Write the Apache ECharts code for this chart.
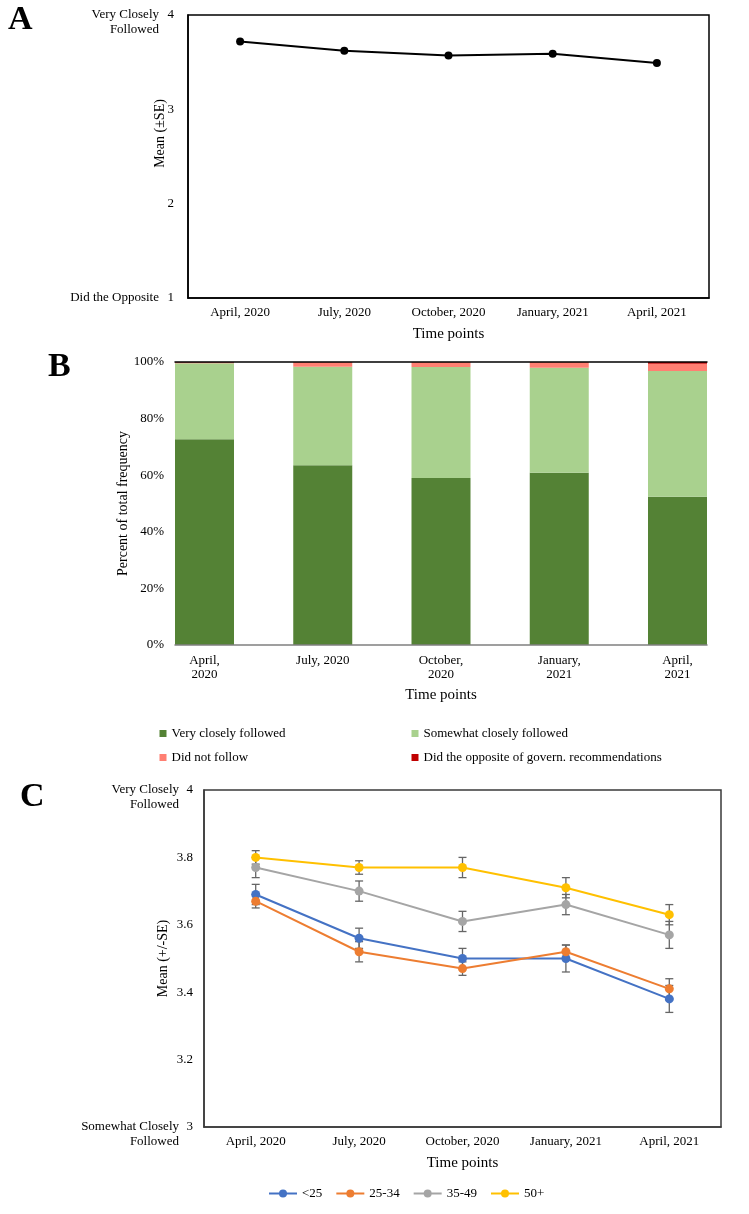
<!DOCTYPE html>
<html>
<head>
<meta charset="utf-8">
<script src="https://cdn.jsdelivr.net/npm/echarts@6/dist/echarts.min.js"></script>
<style>
html,body{margin:0;padding:0;background:#fff;}
#main{width:749px;height:1214px;}
</style>
</head>
<body>
<div id="main"></div>
<script>
// ---------- data ----------
const categories = ['April, 2020', 'July, 2020', 'October, 2020', 'January, 2021', 'April, 2021'];
const tickLabelsB = ['April,\n2020', 'July, 2020', 'October,\n2020', 'January,\n2021', 'April,\n2021'];

// Panel A: overall mean
const meanOverall = [3.72, 3.62, 3.57, 3.59, 3.49];
const yTickTextA = { 4: 'Very Closely\nFollowed', 1: 'Did the Opposite' };

// Panel B: percent of total frequency
const veryClosely = [72.7, 63.5, 59.0, 60.9, 52.4];
const somewhatClosely = [26.9, 34.8, 39.2, 37.1, 44.4];
const didNotFollow = [0.2, 1.6, 1.7, 1.9, 2.6];
const didOpposite = [0.2, 0.1, 0.1, 0.1, 0.6];
const seriesNamesB = ['Very closely followed', 'Somewhat closely followed', 'Did not follow', 'Did the opposite of govern. recommendations'];

// Panel C: by age group (mean and SE)
const groupNames = ['<25', '25-34', '35-49', '50+'];
const meanLt25 = [3.69, 3.56, 3.50, 3.50, 3.38];
const seLt25 = [0.03, 0.03, 0.03, 0.04, 0.04];
const mean25_34 = [3.67, 3.52, 3.47, 3.52, 3.41];
const se25_34 = [0.02, 0.03, 0.02, 0.02, 0.03];
const mean35_49 = [3.77, 3.70, 3.61, 3.66, 3.57];
const se35_49 = [0.03, 0.03, 0.03, 0.03, 0.04];
const mean50p = [3.80, 3.77, 3.77, 3.71, 3.63];
const se50p = [0.02, 0.02, 0.03, 0.03, 0.03];
const yTickTextC = { 4: 'Very Closely\nFollowed', 3: 'Somewhat Closely\nFollowed' };

// ---------- styling ----------
const FONT = "'Liberation Serif','Times New Roman',serif";
const colorsB = ['#548235', '#a9d18e', '#ff7f72', '#c00000'];
const colorsC = ['#4472c4', '#ed7d31', '#a5a5a5', '#ffc000'];

function makeRich(nWidth) {
  return {
    t: { fontSize: 13, lineHeight: 15, fontFamily: FONT, color: '#000' },
    n: { fontSize: 13, lineHeight: 15, width: nWidth, align: 'right', fontFamily: FONT, color: '#000' },
    g: { fontSize: 13, lineHeight: 15, width: nWidth },
    b: { fontSize: 13, lineHeight: 15 }
  };
}
function labelFormatter(map, decimals) {
  return function (v) {
    const key = Math.round(v * 1000) / 1000;
    const txt = map[key];
    if (!txt) return decimals ? v.toFixed(decimals) : String(Math.round(v));
    const num = String(Math.round(v));
    const lines = txt.split('\n');
    if (lines.length === 1) return '{t|' + lines[0] + '}{n|' + num + '}';
    return '{b| }\n{t|' + lines[0] + '}{n|' + num + '}\n{t|' + lines[1] + '}{g| }';
  };
}

const nameStyle = { fontSize: 14, color: '#000', fontFamily: FONT };
const tickStyle = { fontSize: 13, color: '#000', fontFamily: FONT };

function errorBarSeries(means, ses, idx) {
  return {
    type: 'custom',
    name: 'err' + idx,
    xAxisIndex: 4,
    yAxisIndex: 3,
    z: 1,
    silent: true,
    data: means.map((m, i) => [i, m - ses[i], m + ses[i]]),
    encode: { x: 0, y: [1, 2] },
    renderItem: function (params, api) {
      const x = api.value(0);
      const lo = api.coord([x, api.value(1)]);
      const hi = api.coord([x, api.value(2)]);
      const w = 4;
      const st = { stroke: '#666', lineWidth: 1.3 };
      return {
        type: 'group',
        children: [
          { type: 'line', shape: { x1: lo[0], y1: lo[1], x2: hi[0], y2: hi[1] }, style: st },
          { type: 'line', shape: { x1: lo[0] - w, y1: lo[1], x2: lo[0] + w, y2: lo[1] }, style: st },
          { type: 'line', shape: { x1: hi[0] - w, y1: hi[1], x2: hi[0] + w, y2: hi[1] }, style: st }
        ]
      };
    }
  };
}

const chart = echarts.init(document.getElementById('main'), null, { renderer: 'canvas' });

const groupMeans = [meanLt25, mean25_34, mean35_49, mean50p];
const groupSEs = [seLt25, se25_34, se35_49, se50p];

const option = {
  animation: false,
  backgroundColor: '#fff',
  textStyle: { fontFamily: FONT, color: '#000' },
  title: [
    { text: 'A', left: 8, top: 3, padding: 0, textStyle: { fontSize: 34, fontWeight: 'bold', fontFamily: FONT, color: '#000' } },
    { text: 'B', left: 48, top: 350, padding: 0, textStyle: { fontSize: 34, fontWeight: 'bold', fontFamily: FONT, color: '#000' } },
    { text: 'C', left: 20, top: 780, padding: 0, textStyle: { fontSize: 34, fontWeight: 'bold', fontFamily: FONT, color: '#000' } }
  ],
  grid: [
    { left: 188, right: 40, top: 15, height: 283, show: true, borderColor: '#000', borderWidth: 1.5, outerBoundsMode: 'none', containLabel: false },
    { left: 204.5, right: 71.5, top: 362, height: 283, outerBoundsMode: 'none', containLabel: false },
    { left: 175, width: 532, top: 362, height: 283, outerBoundsMode: 'none', containLabel: false },
    { left: 204, right: 28, top: 790, height: 337, show: true, borderColor: '#3a3a3a', borderWidth: 1.5, outerBoundsMode: 'none', containLabel: false }
  ],
  legend: [
    { data: [seriesNamesB[0], seriesNamesB[2]], orient: 'vertical', left: 154.5, top: 722, icon: 'rect', itemWidth: 7, itemHeight: 7, itemGap: 11, textStyle: tickStyle, selectedMode: false },
    { data: [seriesNamesB[1], seriesNamesB[3]], orient: 'vertical', left: 406.5, top: 722, icon: 'rect', itemWidth: 7, itemHeight: 7, itemGap: 11, textStyle: tickStyle, selectedMode: false },
    { data: groupNames, left: 263, top: 1182, itemWidth: 28, itemHeight: 10, itemGap: 13, textStyle: tickStyle, selectedMode: false }
  ],
  xAxis: [
    { gridIndex: 0, type: 'category', data: categories, boundaryGap: true,
      axisLine: { show: true, lineStyle: { color: '#000', width: 1.5 } }, axisTick: { show: false },
      axisLabel: Object.assign({ margin: 8, interval: 0 }, tickStyle),
      name: 'Time points', nameLocation: 'middle', nameGap: 29, nameMoveOverlap: false,
      nameTextStyle: { fontSize: 15, color: '#000', fontFamily: FONT } },
    { gridIndex: 1, type: 'category', data: tickLabelsB, boundaryGap: false,
      axisLine: { show: false }, axisTick: { show: false },
      axisLabel: Object.assign({ margin: 9, interval: 0, lineHeight: 14 }, tickStyle),
      name: 'Time points', nameLocation: 'middle', nameGap: 43, nameMoveOverlap: false,
      nameTextStyle: { fontSize: 15, color: '#000', fontFamily: FONT } },
    { gridIndex: 2, type: 'value', min: 0, max: 1, position: 'bottom', z: 10,
      axisLine: { show: true, lineStyle: { color: '#808080', width: 1.5 } }, axisTick: { show: false },
      axisLabel: { show: false }, splitLine: { show: false } },
    { gridIndex: 2, type: 'value', min: 0, max: 1, position: 'top', z: 10,
      axisLine: { show: true, lineStyle: { color: '#000', width: 1.5 } }, axisTick: { show: false },
      axisLabel: { show: false }, splitLine: { show: false } },
    { gridIndex: 3, type: 'category', data: categories, boundaryGap: true,
      axisLine: { show: true, lineStyle: { color: '#3a3a3a', width: 1.5 } }, axisTick: { show: false },
      axisLabel: Object.assign({ margin: 8, interval: 0 }, tickStyle),
      name: 'Time points', nameLocation: 'middle', nameGap: 29, nameMoveOverlap: false,
      nameTextStyle: { fontSize: 15, color: '#000', fontFamily: FONT } }
  ],
  yAxis: [
    { gridIndex: 0, type: 'value', min: 1, max: 4, interval: 1,
      axisLine: { show: true, lineStyle: { color: '#000', width: 1.5 } }, axisTick: { show: false },
      splitLine: { show: false },
      axisLabel: Object.assign({ margin: 14, formatter: labelFormatter(yTickTextA, 0), rich: makeRich(15) }, tickStyle),
      name: 'Mean (±SE)', nameLocation: 'middle', nameGap: 21, nameMoveOverlap: false,
      nameTextStyle: Object.assign({ padding: [0, 0, 0, 46] }, nameStyle) },
    { gridIndex: 1, type: 'value', min: 0, max: 100, interval: 20,
      axisLine: { show: false }, axisTick: { show: false }, splitLine: { show: false },
      axisLabel: Object.assign({ margin: 40.5, formatter: '{value}%' }, tickStyle),
      name: 'Percent of total frequency', nameLocation: 'middle', nameGap: 74.5, nameMoveOverlap: false, nameTextStyle: nameStyle },
    { gridIndex: 2, type: 'value', min: 0, max: 1, show: false },
    { gridIndex: 3, type: 'value', min: 3, max: 4, interval: 0.2,
      axisLine: { show: true, lineStyle: { color: '#3a3a3a', width: 1.5 } }, axisTick: { show: false },
      splitLine: { show: false },
      axisLabel: Object.assign({ margin: 11, formatter: labelFormatter(yTickTextC, 1), rich: makeRich(14) }, tickStyle),
      name: 'Mean (+/-SE)', nameLocation: 'middle', nameGap: 34, nameMoveOverlap: false, nameTextStyle: nameStyle }
  ],
  series: [
    { type: 'line', name: 'Mean', xAxisIndex: 0, yAxisIndex: 0, data: meanOverall,
      symbol: 'circle', symbolSize: 8, itemStyle: { color: '#000' }, lineStyle: { color: '#000', width: 2 } },
    { type: 'bar', name: seriesNamesB[0], xAxisIndex: 1, yAxisIndex: 1, stack: 'b', data: veryClosely, barWidth: 59, clip: false, itemStyle: { color: colorsB[0] } },
    { type: 'bar', name: seriesNamesB[1], xAxisIndex: 1, yAxisIndex: 1, stack: 'b', data: somewhatClosely, barWidth: 59, clip: false, itemStyle: { color: colorsB[1] } },
    { type: 'bar', name: seriesNamesB[2], xAxisIndex: 1, yAxisIndex: 1, stack: 'b', data: didNotFollow, barWidth: 59, clip: false, itemStyle: { color: colorsB[2] } },
    { type: 'bar', name: seriesNamesB[3], xAxisIndex: 1, yAxisIndex: 1, stack: 'b', data: didOpposite, barWidth: 59, clip: false, itemStyle: { color: colorsB[3] } }
  ]
};

groupNames.forEach((g, i) => {
  option.series.push(errorBarSeries(groupMeans[i], groupSEs[i], i));
});
groupNames.forEach((g, i) => {
  option.series.push({
    type: 'line', name: g, xAxisIndex: 4, yAxisIndex: 3, data: groupMeans[i], z: 3,
    symbol: 'circle', symbolSize: 9, color: colorsC[i],
    itemStyle: { color: colorsC[i] }, lineStyle: { color: colorsC[i], width: 2 }
  });
});

chart.setOption(option);
</script>
</body>
</html>
